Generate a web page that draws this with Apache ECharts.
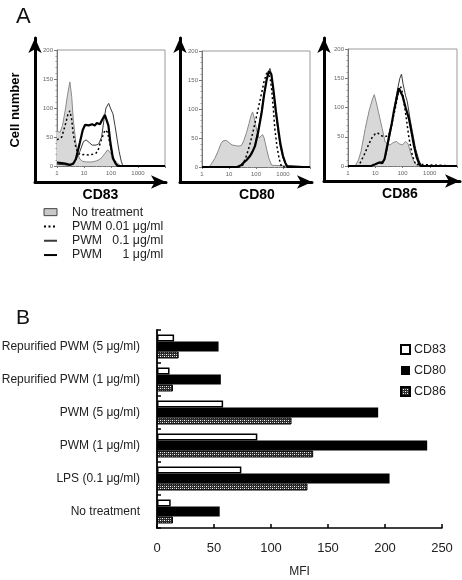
<!DOCTYPE html>
<html><head><meta charset="utf-8">
<script src="https://cdn.jsdelivr.net/npm/echarts@6/dist/echarts.min.js"></script>
<style>html,body{margin:0;padding:0;background:#fff}#c{width:462px;height:580px}</style>
</head><body><div id="c"></div>
<script>
// ---------- Panel A : histograms  [fluorescence, cell number] ----------
const cd83NoTreat = [[1,60],[1.3,58],[1.6,70],[2,95],[2.5,125],[3,145],[3.5,120],[4,80],[5,40],[6,20],[7,12],[9,8],[12,7],[20,7],[30,9],[40,12],[50,17],[60,22],[75,28],[90,24],[110,18],[140,10],[180,4],[220,1],[300,0],[10000,0]];
const cd83Pwm001 = [[1,45],[1.5,50],[2,70],[2.5,88],[3,95],[3.5,80],[4,55],[5,32],[6,22],[8,19],[10,20],[15,19],[20,20],[28,22],[35,30],[40,40],[50,52],[60,62],[66,65],[75,58],[90,40],[110,22],[130,10],[160,2],[200,0],[10000,0]];
const cd83Pwm01 = [[1,3],[2,2],[3,1],[3.5,2],[5,10],[7,25],[9.5,42],[12,45],[16,40],[20,36],[28,36],[35,38],[45,50],[55,80],[65,100],[82,108],[95,100],[118,90],[140,70],[170,45],[200,25],[240,8],[275,0],[10000,0]];
const cd83Pwm1 = [[1,6],[1.5,5],[2,4],[3,2],[4,4],[5,12],[7,40],[9,62],[11,71],[15,70],[20,72],[25,70],[30,74],[39,72],[45,78],[59,88],[63,85],[68,90],[80,70],[95,40],[118,13],[150,4],[180,0],[10000,0]];

const cd80NoTreat = [[1,0],[1.8,0],[2.2,5],[3,15],[4,28],[5,40],[6,45],[7,48],[8,46],[10,42],[13,38],[17,37],[22,36],[29,37],[35,45],[45,60],[55,75],[65,88],[75,95],[82,88],[95,75],[110,60],[130,50],[150,52],[175,56],[200,50],[250,30],[300,15],[380,3],[450,0],[10000,0]];
const cd80Pwm001 = [[1,0],[25,0],[32,3],[45,20],[60,40],[75,58],[92,76],[120,100],[162,128],[200,148],[250,162],[285,165],[330,155],[380,134],[440,100],[500,65],[600,35],[730,13],[890,0],[10000,0]];
const cd80Pwm01 = [[1,0],[20,0],[30,4],[40,9],[55,16],[70,22],[92,40],[120,64],[162,98],[200,128],[250,153],[300,166],[330,170],[360,163],[440,130],[550,88],[670,58],[800,34],[1000,15],[1300,3],[1500,0],[10000,0]];
const cd80Pwm1 = [[1,0],[20,0],[28,3],[34,7],[45,12],[60,19],[75,27],[92,36],[120,60],[162,94],[200,125],[250,151],[300,165],[330,168],[370,160],[440,134],[550,95],[670,65],[800,40],[1000,19],[1200,8],[1450,0],[10000,0]];

const cd86NoTreat = [[1,0],[1.8,0],[2.4,10],[3,25],[4.3,64],[6,95],[8,115],[9.2,122],[11,108],[13,93],[18,64],[23,41],[28,38],[35,36],[45,40],[60,42],[75,38],[100,36],[130,42],[160,38],[200,22],[260,8],[350,0],[10000,0]];
const cd86Pwm001 = [[1,0],[2.4,0],[3,8],[4,20],[5.5,35],[7.5,48],[10,55],[12,57],[16,52],[22,50],[31,52],[40,70],[55,100],[70,125],[85,136],[100,125],[130,90],[170,50],[230,18],[300,3],[330,0],[10000,0]];
const cd86Pwm01 = [[1,0],[7,0],[11,4],[15,7],[20,8],[25,20],[31,41],[40,68],[50,99],[65,130],[80,150],[92,157],[105,140],[130,120],[150,110],[190,80],[230,59],[300,30],[400,10],[500,0],[10000,0]];
const cd86Pwm1 = [[1,0],[7,0],[10,3],[14,6],[18,5],[22,12],[31,47],[40,72],[48,93],[60,115],[73,133],[85,130],[100,120],[130,100],[172,81],[220,55],[263,35],[330,15],[400,5],[460,0],[10000,0]];

const histTitles = ['CD83', 'CD80', 'CD86'];
const treatmentNames = ['No treatment', 'PWM 0.01 μg/ml', 'PWM   0.1 μg/ml', 'PWM      1 μg/ml'];
const histYTicks = [0, 50, 100, 150, 200];
const histXTicks = [1, 10, 100, 1000];

// ---------- Panel B : MFI bars ----------
const categories = ['Repurified PWM (5 μg/ml)', 'Repurified PWM (1 μg/ml)', 'PWM (5 μg/ml)', 'PWM (1 μg/ml)', 'LPS (0.1 μg/ml)', 'No treatment'];
const markerNames = ['CD83', 'CD80', 'CD86'];
const cd83MFI = [15, 11, 58, 88, 74, 12];
const cd80MFI = [54, 56, 194, 237, 204, 55];
const cd86MFI = [19, 14, 118, 137, 132, 14];
const mfiTicks = [0, 50, 100, 150, 200, 250];

// ---------- build ----------
const FONT = 'Liberation Sans, Arial, Helvetica, sans-serif';
const histData = [
  [cd83NoTreat, cd83Pwm001, cd83Pwm01, cd83Pwm1],
  [cd80NoTreat, cd80Pwm001, cd80Pwm01, cd80Pwm1],
  [cd86NoTreat, cd86Pwm001, cd86Pwm01, cd86Pwm1]
];
const curveStyles = [
  {color: '#8a8a8a', line: {color: '#8a8a8a', width: 1}, area: {color: '#d8d8d8', opacity: 1}},
  {color: '#000', line: {color: '#000', width: 1.5, type: [2, 2.5]}},
  {color: '#333', line: {color: '#3a3a3a', width: 1}},
  {color: '#000', line: {color: '#000', width: 2.2}}
];

// pattern for CD86 bars
const pc = document.createElement('canvas');
pc.width = 4; pc.height = 4;
const pctx = pc.getContext('2d');
pctx.fillStyle = '#2a2a2a'; pctx.fillRect(0, 0, 4, 4);
pctx.fillStyle = '#ffffff'; pctx.fillRect(0, 0, 1, 1); pctx.fillRect(2, 2, 1, 1);
pctx.fillStyle = '#aaaaaa'; pctx.fillRect(2, 0, 1, 1); pctx.fillRect(0, 2, 1, 1);
const patternFill = {image: pc, repeat: 'repeat'};

const outerGrids = [
  {left: 35, top: 38, width: 131, height: 144},
  {left: 180, top: 38, width: 132, height: 144},
  {left: 324, top: 38, width: 136, height: 143}
];
const innerGrids = [
  {left: 57, top: 50, width: 108, height: 116},
  {left: 202, top: 51, width: 108, height: 116},
  {left: 348, top: 49, width: 109, height: 117}
];
const titleShift = [0, 22, 16];
const barGrid = {left: 157, top: 330, width: 285, height: 198};

const grids = [], xAxes = [], yAxes = [], series = [];
const gridBase = {containLabel: false, outerBoundsMode: 'none'};
outerGrids.forEach((g, i) => {
  grids.push(Object.assign({}, gridBase, g));
  const arrowLine = {show: true, lineStyle: {color: '#000', width: 3}, symbol: ['none', 'arrow'], symbolSize: [10, 15]};
  xAxes.push({gridIndex: i, type: 'value', min: 0, max: 1, axisLine: arrowLine, axisTick: {show: false}, axisLabel: {show: false}, splitLine: {show: false},
    name: histTitles[i], nameLocation: 'middle', nameGap: 6,
    nameTextStyle: {fontFamily: FONT, fontWeight: 'bold', fontSize: 14, color: '#000', padding: [0, 0, 0, titleShift[i]]}});
  yAxes.push({gridIndex: i, type: 'value', min: 0, max: 1, axisLine: arrowLine, axisTick: {show: false}, axisLabel: {show: false}, splitLine: {show: false},
    name: i === 0 ? 'Cell number' : '', nameLocation: 'middle', nameGap: 13, nameTextStyle: {fontFamily: FONT, fontWeight: 'bold', fontSize: 13, color: '#000'}});
});
innerGrids.forEach((g, i) => {
  const gi = grids.length;
  grids.push(Object.assign({show: true, borderColor: '#9a9a9a', borderWidth: 1}, gridBase, g));
  xAxes.push({gridIndex: gi, type: 'log', logBase: 10, min: 1, max: 10000,
    axisLine: {lineStyle: {color: '#777', width: 1}}, axisTick: {length: 2, lineStyle: {color: '#777'}},
    minorTick: {show: true, length: 1, lineStyle: {color: '#999'}},
    splitLine: {show: false},
    axisLabel: {fontSize: 6, color: '#666', margin: 4, fontFamily: FONT, formatter: v => histXTicks.indexOf(v) >= 0 ? String(v) : ''}});
  yAxes.push({gridIndex: gi, type: 'value', min: histYTicks[0], max: histYTicks[histYTicks.length - 1], interval: 50,
    axisLine: {show: true, lineStyle: {color: '#777', width: 1}}, axisTick: {show: true, length: 3, lineStyle: {color: '#777'}},
    minorTick: {show: true, splitNumber: 5, length: 1.5, lineStyle: {color: '#999'}},
    splitLine: {show: false},
    axisLabel: {fontSize: 6, color: '#666', margin: 4, fontFamily: FONT}});
  histData[i].forEach((d, k) => {
    const st = curveStyles[k];
    series.push({type: 'line', name: treatmentNames[k], xAxisIndex: gi, yAxisIndex: gi, data: d, symbol: 'none', silent: true,
      itemStyle: {color: st.color}, lineStyle: st.line, areaStyle: st.area, z: 2 + k, animation: false});
  });
});
const bi = grids.length;
grids.push(Object.assign({}, gridBase, barGrid));
xAxes.push({gridIndex: bi, type: 'value', min: mfiTicks[0], max: mfiTicks[mfiTicks.length - 1], interval: 50,
  axisLine: {show: true, lineStyle: {color: '#000', width: 1.5}}, axisTick: {show: true, inside: true, length: 4, lineStyle: {color: '#000', width: 1.5}},
  splitLine: {show: false}, axisLabel: {fontSize: 13, color: '#222', margin: 14, fontFamily: FONT},
  name: 'MFI', nameLocation: 'middle', nameGap: 38, nameTextStyle: {fontSize: 12, color: '#222', fontFamily: FONT}});
yAxes.push({gridIndex: bi, type: 'category', data: categories, inverse: true,
  axisLine: {show: true, lineStyle: {color: '#000', width: 1.8}}, axisTick: {show: true, inside: true, length: 4, lineStyle: {color: '#000', width: 1.5}},
  axisLabel: {fontSize: 12, color: '#222', margin: 17, fontFamily: FONT}});
const barVals = [cd83MFI, cd80MFI, cd86MFI];
const barStyles = [
  {barWidth: 7, itemStyle: {color: '#fff', borderColor: '#000', borderWidth: 1.5}},
  {barWidth: 10, itemStyle: {color: '#000'}},
  {barWidth: 7, itemStyle: {color: patternFill, borderColor: '#000', borderWidth: 1}}
];
barVals.forEach((v, k) => {
  series.push(Object.assign({type: 'bar', name: markerNames[k], xAxisIndex: bi, yAxisIndex: bi, data: v, barGap: '0%', animation: false, silent: true}, barStyles[k]));
});

const hiddenSymbol = {color: 'rgba(0,0,0,0)', borderWidth: 0, opacity: 0};
const option = {
  backgroundColor: '#fff',
  textStyle: {fontFamily: FONT},
  animation: false,
  title: [
    {text: 'A', left: 11, top: 1, textStyle: {fontSize: 22, fontWeight: 'normal', color: '#111', fontFamily: FONT}},
    {text: 'B', left: 11, top: 303, textStyle: {fontSize: 21, fontWeight: 'normal', color: '#111', fontFamily: FONT}}
  ],
  legend: [
    {orient: 'vertical', left: 38, top: 200, itemWidth: 13, itemHeight: 7, itemGap: 0, selectedMode: false,
      textStyle: {fontSize: 12.3, lineHeight: 14.3, color: '#222', fontFamily: FONT, padding: [0, 0, 0, 10]},
      data: [
        {name: treatmentNames[0], icon: 'rect', itemStyle: {color: '#c8c8c8', borderColor: '#444', borderWidth: 1}},
        {name: treatmentNames[1], itemStyle: hiddenSymbol},
        {name: treatmentNames[2], itemStyle: hiddenSymbol},
        {name: treatmentNames[3], itemStyle: hiddenSymbol}
      ]},
    {orient: 'vertical', left: 395, top: 338, itemWidth: 9, itemHeight: 9, itemGap: 8, selectedMode: false,
      textStyle: {fontSize: 12.5, color: '#222', fontFamily: FONT, padding: [0, 0, 0, -1]},
      data: markerNames.map(n => ({name: n, icon: 'rect'}))}
  ],
  grid: grids, xAxis: xAxes, yAxis: yAxes, series: series
};
const chart = echarts.init(document.getElementById('c'), null, {renderer: 'canvas'});
chart.setOption(option);
</script></body></html>
